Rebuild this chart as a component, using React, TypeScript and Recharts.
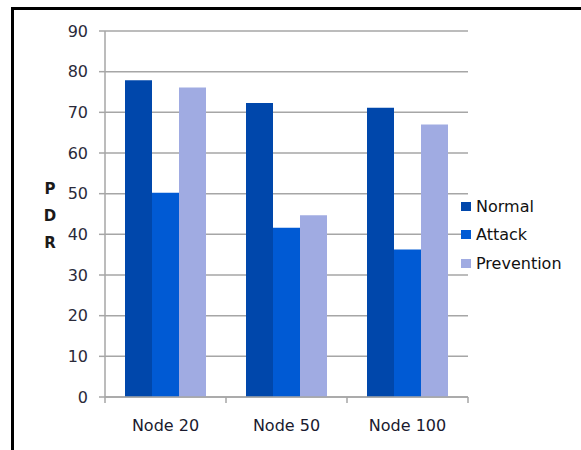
import { BarChart, Bar, XAxis, YAxis, CartesianGrid } from 'recharts';

const categories = ['Node 20', 'Node 50', 'Node 100'];
const normal = [77.9, 72.3, 71.1];
const attack = [50.2, 41.6, 36.3];
const prevention = [76.1, 44.7, 67];
const yTicks = [0, 10, 20, 30, 40, 50, 60, 70, 80, 90];
const axisTitle = ['P', 'D', 'R'];
const seriesNames = ['Normal', 'Attack', 'Prevention'];
const seriesColors = ['#0047ab', '#005ad4', '#a0abe2'];

const data = categories.map((name, i) => ({
  name,
  Normal: normal[i],
  Attack: attack[i],
  Prevention: prevention[i],
}));

const FONT = '"DejaVu Sans", sans-serif';
const GRID = '#a6a6a6';

function NodeTick(props: any) {
  const { x, y, payload, index } = props;
  const half = payload && payload.offset ? payload.offset : 60.5;
  return (
    <g>
      <line x1={x - half} x2={x - half} y1={y} y2={y + 6} stroke={GRID} strokeWidth={1.5} />
      {index === categories.length - 1 && (
        <line x1={x + half} x2={x + half} y1={y} y2={y + 6} stroke={GRID} strokeWidth={1.5} />
      )}
      <text x={x} y={y + 23} dy="0.71em" textAnchor="middle" fontFamily={FONT} fontSize={16} fill="#1a1a2e">
        {payload.value}
      </text>
    </g>
  );
}

function PdrLabel() {
  return (
    <text fontFamily={FONT} fontSize={15} fontWeight="bold" fill="#1a1a1a" textAnchor="middle">
      {axisTitle.map((c, i) => (
        <tspan key={c} x={50} y={194 + i * 27}>
          {c}
        </tspan>
      ))}
    </text>
  );
}

export default function App() {
  return (
    <div style={{ position: 'absolute', left: 0, top: 0, width: 581, height: 450, overflow: 'hidden', background: '#fff' }}>
      <div
        style={{
          position: 'absolute',
          left: 11,
          top: 7,
          width: 640,
          height: 520,
          border: '3px solid #000',
        }}
      />
      <div style={{ position: 'absolute', left: 0, top: 0 }}>
        <BarChart
          width={581}
          height={450}
          data={data}
          margin={{ top: 31, right: 113, left: 0, bottom: 0 }}
          barCategoryGap={20}
          barGap={0}
        >
          <CartesianGrid vertical={false} stroke={GRID} strokeWidth={1.5} />
          <XAxis
            dataKey="name"
            height={53}
            axisLine={{ stroke: GRID, strokeWidth: 1.5 }}
            tickLine={false}
            tickSize={0}
            tickMargin={0}
            tick={<NodeTick />}
            interval={0}
          />
          <YAxis
            width={105}
            domain={[0, 90]}
            ticks={yTicks}
            interval={0}
            axisLine={{ stroke: GRID, strokeWidth: 1.5 }}
            tickLine={{ stroke: GRID, strokeWidth: 1.5 }}
            tickSize={6}
            tickMargin={11}
            tick={{ fontFamily: FONT, fontSize: 16, fill: '#2a2a3a' }}
            label={<PdrLabel />}
          />
          {seriesNames.map((s, i) => (
            <Bar key={s} dataKey={s} fill={seriesColors[i]} isAnimationActive={false} />
          ))}
        </BarChart>
      </div>
      <div style={{ position: 'absolute', left: 461, top: 192, fontFamily: FONT, fontSize: 16, color: '#111' }}>
        {seriesNames.map((s, i) => (
          <div key={s} style={{ display: 'flex', alignItems: 'center', height: 28.5 }}>
            <span style={{ width: 10, height: 9, background: seriesColors[i], marginRight: 5, display: 'inline-block' }} />
            <span>{s}</span>
          </div>
        ))}
      </div>
    </div>
  );
}
